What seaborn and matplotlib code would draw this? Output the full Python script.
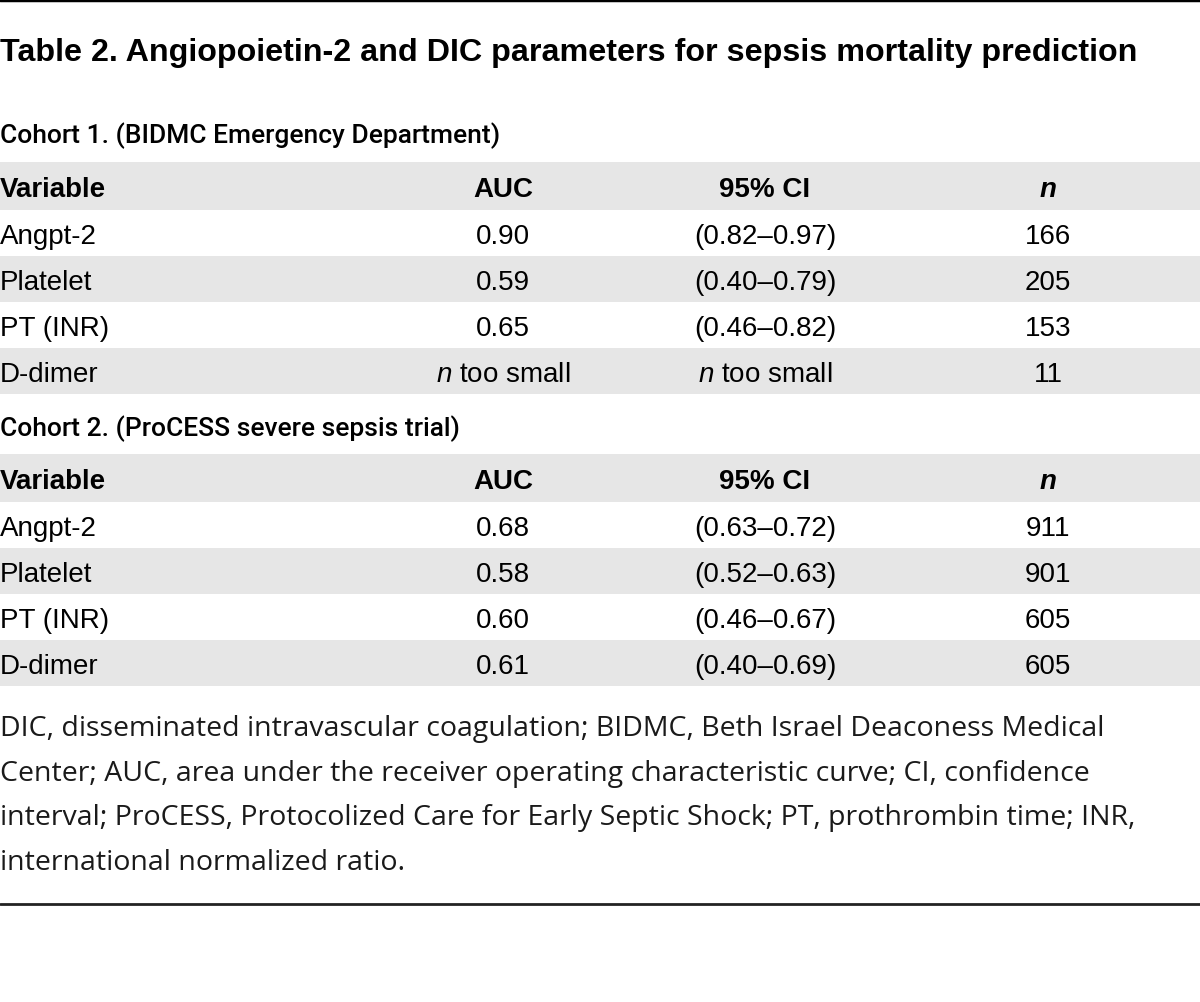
import matplotlib
matplotlib.use("Agg")
import matplotlib.pyplot as plt
import seaborn as sns

# ---------------- data ----------------
title = "Table 2. Angiopoietin-2 and DIC parameters for sepsis mortality prediction"
cohort_labels = ["Cohort 1. (BIDMC Emergency Department)",
                 "Cohort 2. (ProCESS severe sepsis trial)"]
headers = ["Variable", "AUC", "95% CI", "n"]
variables = ["Angpt-2", "Platelet", "PT (INR)", "D-dimer"]
auc_c1 = ["0.90", "0.59", "0.65", "n too small"]
ci_c1 = ["(0.82–0.97)", "(0.40–0.79)", "(0.46–0.82)", "n too small"]
n_c1 = [166, 205, 153, 11]
auc_c2 = ["0.68", "0.58", "0.60", "0.61"]
ci_c2 = ["(0.63–0.72)", "(0.52–0.63)", "(0.46–0.67)", "(0.40–0.69)"]
n_c2 = [911, 901, 605, 605]
footnote = [
    "DIC, disseminated intravascular coagulation; BIDMC, Beth Israel Deaconess Medical",
    "Center; AUC, area under the receiver operating characteristic curve; CI, confidence",
    "interval; ProCESS, Protocolized Care for Early Septic Shock; PT, prothrombin time; INR,",
    "international normalized ratio.",
]

# ---------------- style ----------------
sns.set_theme(style="white")
BODYFAM = ["Liberation Sans", "DejaVu Sans"]
plt.rcParams["font.family"] = BODYFAM
plt.rcParams["mathtext.fontset"] = "custom"
plt.rcParams["mathtext.it"] = "Liberation Sans:italic"
plt.rcParams["mathtext.bf"] = "Liberation Sans:bold:italic"

GRAY = "#e6e6e6"
BODY = 20
W, H = 1200, 1003

fig = plt.figure(figsize=(W / 100, H / 100), dpi=100)
ax = fig.add_axes([0, 0, 1, 1])
ax.set_xlim(0, W)
ax.set_ylim(H, 0)
ax.axis("off")

col_x = [0, 503, 765, 1048]


def fmt(s):
    s = str(s)
    if s.startswith("n too"):
        return r"$\it{n}$" + s[1:]
    return s


# rules
ax.axhline(1, color="black", lw=2.5)
ax.axhline(905, color="#222222", lw=2)

# title
ax.text(0, 61, title, fontsize=23.2, fontweight="bold", ha="left",
        va="baseline", color="black")


def draw_block(label, label_y, top, aucs, cis, ns):
    ax.text(0, label_y + 11, label, fontsize=19, fontweight="medium",
            family=["Roboto", "Liberation Sans", "DejaVu Sans"],
            ha="left", va="baseline", color="black")
    # header band
    ax.axhspan(top, top + 48, color=GRAY, lw=0)
    hb = top + 24 + 10
    for j, h in enumerate(headers):
        ha = "left" if j == 0 else "center"
        txt = r"$\mathbf{n}$" if h == "n" else h
        ax.text(col_x[j], hb, txt, fontsize=BODY, fontweight="bold", ha=ha,
                va="baseline", color="black")
    row_h = 46
    for i, v in enumerate(variables):
        y0 = top + 48 + i * row_h
        if i % 2 == 1:
            ax.axhspan(y0, y0 + row_h, color=GRAY, lw=0)
        b = y0 + row_h / 2 + 10
        ax.text(col_x[0], b, v, fontsize=BODY, ha="left", va="baseline", color="black")
        ax.text(col_x[1], b, fmt(aucs[i]), fontsize=BODY, ha="center", va="baseline", color="black")
        ax.text(col_x[2], b, fmt(cis[i]), fontsize=BODY, ha="center", va="baseline", color="black")
        ax.text(col_x[3], b, fmt(ns[i]), fontsize=BODY, ha="center", va="baseline", color="black")


draw_block(cohort_labels[0], 132, 163, auc_c1, ci_c1, n_c1)
draw_block(cohort_labels[1], 425, 455, auc_c2, ci_c2, n_c2)

for k, line in enumerate(footnote):
    ax.text(0, 736 + k * 44.7, line, fontsize=20.5, ha="left", va="baseline",
            family=["Open Sans", "DejaVu Sans"], color="#1a1a1a")

fig.savefig("out.png", dpi=100, facecolor="white")
